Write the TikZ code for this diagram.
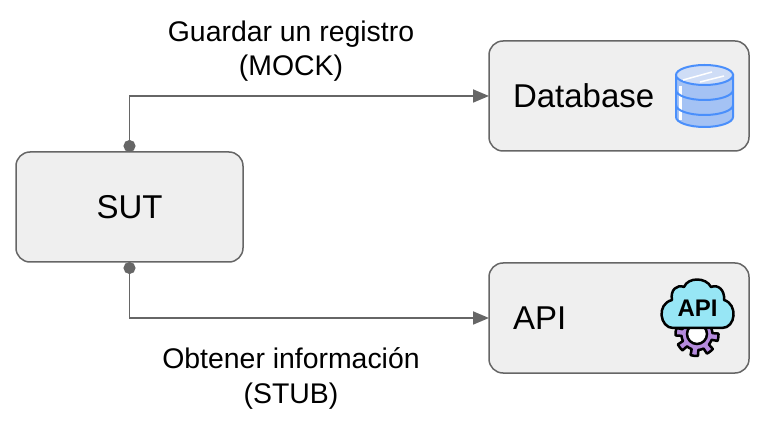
\documentclass[tikz,border=0pt]{standalone}
\usepackage{fontspec}
\setmainfont{Liberation Sans}
\usetikzlibrary{arrows.meta}
\definecolor{BOXFILL}{HTML}{EFEFEF}
\definecolor{GREY}{HTML}{666666}
\definecolor{DBLINE}{HTML}{4A8FFB}
\definecolor{DBFILL}{HTML}{A4C2F4}
\definecolor{DBTOP}{HTML}{CFDDF6}
\definecolor{CLOUD}{HTML}{97E6F5}
\definecolor{GEAR}{HTML}{B58BDD}
\tikzset{
    box/.style={draw=GREY, fill=BOXFILL, line width=1.5pt, rounded corners=14pt, minimum height=110pt, outer sep=0pt, font=\fontsize{33}{38}\selectfont},
    sidebox/.style={box, text width=212pt, inner xsep=24pt, inner ysep=0pt, align=left},
    link/.style={GREY, line width=1.8pt, {Circle[length=12pt]}-{Triangle[length=16pt,width=13pt]}},
    caption/.style={align=center, font=\fontsize{28.4}{34.5}\selectfont},
}
\begin{document}
\begin{tikzpicture}[x=1pt, y=-1pt]
    \useasboundingbox (0,0) rectangle (768,427);
    \node[box, minimum width=227pt] (sut) at (129.5,207) {SUT};
    \node[sidebox] (db) at (619,96) {Database};
    \node[sidebox] (api) at (619,318) {API};
    \draw[link] (sut.north) |- (db.west);
    \draw[link] (sut.south) |- (api.west);
    \node[caption] (mock) at (291,51) {Guardar un registro\\(MOCK)};
    \node[caption] (stub) at (291,378.5) {Obtener información\\(STUB)};
    % database icon
    \draw[DBLINE, fill=DBFILL, line width=2pt] (676,75) -- (676,117) arc (180:0:28.5 and 10) -- (733,75) -- cycle;
    \fill[white] (678.5,86) rectangle (681.5,120);
    \draw[DBLINE, line width=2pt] (676,90) arc (180:0:28.5 and 10);
    \draw[DBLINE, line width=2pt] (676,105) arc (180:0:28.5 and 10);
    \draw[DBLINE, fill=DBTOP, line width=2pt] (704.5,75) ellipse (28.5 and 10);
    \draw[white, line width=1.5pt] (683,80) -- (712,72);
    \draw[white, line width=1.5pt] (700,82) -- (724,76);
    % api icon
    \draw[black, fill=GEAR, line width=2.5pt, line join=round] plot[domain=0:360, samples=145] ({697+(18.5+3*sign(sin(8*\x+22.5)))*cos(\x)}, {334.5+(18.5+3*sign(sin(8*\x+22.5)))*sin(\x)}) -- cycle;
    \draw[black, fill=white, line width=2.5pt] (697,334) circle (10);
    \draw[black, fill=CLOUD, line width=2.5pt, line join=round] (673,328) .. controls (660,328) and (656,304) .. (672,300) .. controls (670,290) and (677,284) .. (684,287) .. controls (688,277) and (706,277) .. (711,287) .. controls (718,284) and (725,290) .. (724,300) .. controls (738,304) and (736,328) .. (722,328) -- cycle;
    \node[font=\fontsize{24}{24}\selectfont\bfseries, inner sep=0pt] (apilogo) at (697.5,308) {API};
\end{tikzpicture}
\end{document}
